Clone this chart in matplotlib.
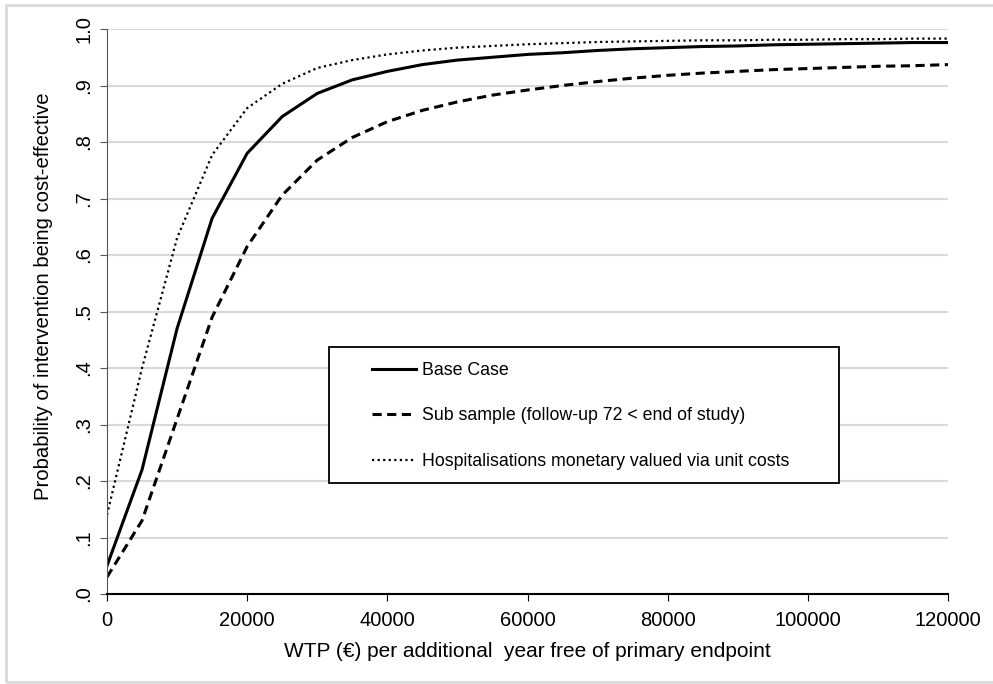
import matplotlib
matplotlib.use("Agg")
import matplotlib.pyplot as plt
from matplotlib.patches import Rectangle

plt.rcParams["font.family"] = ["Liberation Sans", "DejaVu Sans"]

wtp = [0, 5000, 10000, 15000, 20000, 25000, 30000, 35000, 40000, 45000, 50000,
       55000, 60000, 65000, 70000, 75000, 80000, 85000, 90000, 95000, 100000,
       105000, 110000, 115000, 120000]
base_case = [0.05, 0.22, 0.47, 0.665, 0.78, 0.845, 0.886, 0.91, 0.925, 0.937, 0.945,
             0.95, 0.955, 0.958, 0.962, 0.965, 0.967, 0.969, 0.970, 0.972, 0.973,
             0.974, 0.975, 0.976, 0.976]
sub_sample = [0.03, 0.13, 0.31, 0.49, 0.615, 0.706, 0.768, 0.808, 0.836, 0.856, 0.871,
              0.883, 0.892, 0.900, 0.907, 0.913, 0.918, 0.922, 0.925, 0.928, 0.930,
              0.932, 0.934, 0.935, 0.937]
hosp = [0.14, 0.40, 0.63, 0.777, 0.86, 0.903, 0.931, 0.945, 0.955, 0.962, 0.967,
        0.970, 0.973, 0.975, 0.977, 0.978, 0.979, 0.980, 0.980, 0.981, 0.981,
        0.982, 0.982, 0.983, 0.983]
y_ticks = [0, 0.1, 0.2, 0.3, 0.4, 0.5, 0.6, 0.7, 0.8, 0.9, 1.0]
y_labels = [".0", ".1", ".2", ".3", ".4", ".5", ".6", ".7", ".8", ".9", "1.0"]
x_ticks = [0, 20000, 40000, 60000, 80000, 100000, 120000]

W, H = 993, 684
fig = plt.figure(figsize=(W / 100, H / 100), dpi=100)
ax = fig.add_axes([107 / W, 1 - 594 / H, (948 - 107) / W, (594 - 29) / H])

# light grey frame around the whole picture
fig.patches.append(Rectangle((6 / W, 2 / H), 1.2, 677 / H, transform=fig.transFigure,
                             fill=False, edgecolor="#d9d9d9", linewidth=2))

ax.plot(wtp, base_case, color="black", linewidth=2.2, label="Base Case")
ax.plot(wtp, sub_sample, color="black", linewidth=2.2, linestyle=(0, (3, 1.8)),
        label="Sub sample (follow-up 72 < end of study)")
ax.plot(wtp, hosp, color="black", linewidth=1.6, linestyle=(0, (1, 1.5)),
        label="Hospitalisations monetary valued via unit costs")

ax.set_xlim(0, 120000)
ax.set_ylim(0, 1.0)
ax.set_yticks(y_ticks)
ax.set_yticklabels(y_labels, rotation=90, va="center")
ax.set_xticks(x_ticks)
ax.set_xticklabels([str(t) for t in x_ticks])
ax.tick_params(axis="both", labelsize=14.5, colors="black")
ax.tick_params(axis="y", length=5, color="#555555", pad=5)
ax.tick_params(axis="x", length=5, color="black", pad=7)

ax.grid(axis="y", color="#d9d9d9", linewidth=1.5)
ax.set_axisbelow(True)
for s in ["top", "right"]:
    ax.spines[s].set_visible(False)
ax.spines["left"].set_color("#555555")
ax.spines["bottom"].set_color("black")
ax.spines["bottom"].set_linewidth(1.5)
ax.spines["bottom"].set_zorder(5)

ax.set_xlabel("WTP (\u20ac) per additional  year free of primary endpoint", fontsize=15, labelpad=9)
ax.set_ylabel("Probability of intervention being cost-effective", fontsize=14.6)
ax.yaxis.set_label_coords((53 - 107) / 841, (594 - 296) / 565)

# legend box drawn separately so the inner padding matches
x0, x1, y0, y1 = 329, 839, 347, 483
ax.add_patch(Rectangle(((x0 - 107) / 841, (594 - y1) / 565), (x1 - x0) / 841, (y1 - y0) / 565,
                       transform=ax.transAxes, facecolor="white", edgecolor="black",
                       linewidth=1.3, zorder=6))
leg = ax.legend(loc="upper left", bbox_to_anchor=((372 - 107) / 841, (594 - 362) / 565),
                fontsize=12.8, frameon=False, handlelength=2.5, handletextpad=0.3,
                labelspacing=1.6, borderpad=0, borderaxespad=0)
leg.set_zorder(7)

fig.savefig("out.png", dpi=100)
